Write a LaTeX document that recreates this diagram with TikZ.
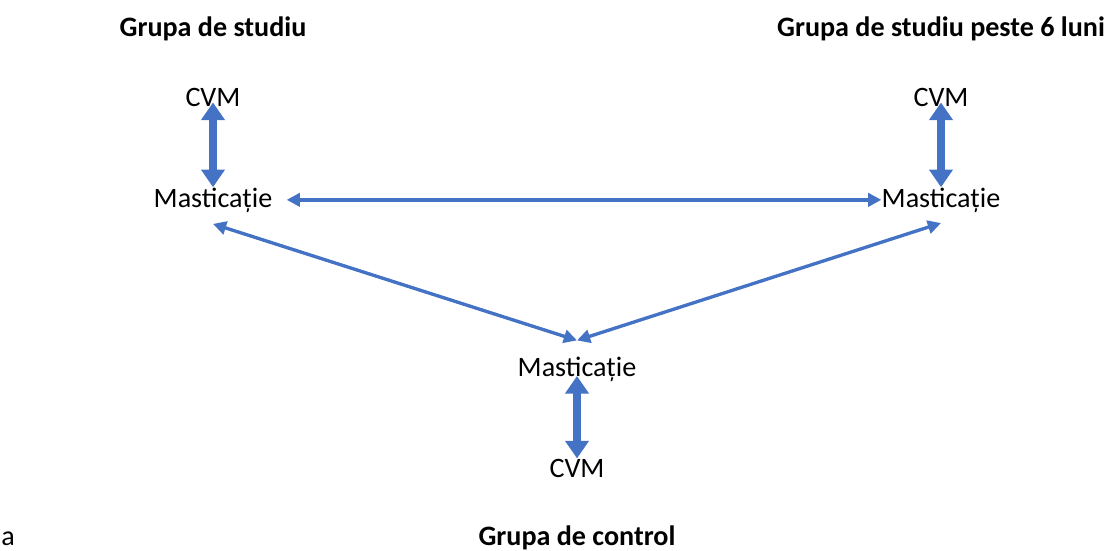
\documentclass[tikz,border=0pt]{standalone}
\usepackage{fontspec}
\setmainfont{Carlito}
\usetikzlibrary{arrows.meta}
\definecolor{linkblue}{HTML}{4472C4}

\begin{document}
\begin{tikzpicture}[x=0.02cm, y=-0.02cm,
    lbl/.style={font=\fontsize{16}{19}\selectfont, inner sep=0pt, anchor=base},
    grouptitle/.style={font=\fontsize{16}{19}\selectfont\bfseries, inner sep=0pt, anchor=base},
    bigarrow/.style={draw=linkblue, line width=4pt, {Triangle[width=13pt,length=10pt]}-{Triangle[width=13pt,length=10pt]}},
    linkarrow/.style={draw=linkblue, line width=1.9pt, {Triangle[width=7.5pt,length=7.5pt]}-{Triangle[width=7.5pt,length=7.5pt]}}]
    \useasboundingbox (0,0) rectangle (1110,551);

    % Titles
    \node[grouptitle] (titleA) at (213,36) {Grupa de studiu};
    \node[grouptitle] (titleB) at (941,36) {Grupa de studiu peste 6 luni};
    \node[grouptitle] (titleC) at (577,545) {Grupa de control};
    \node[lbl, anchor=base west] (tag) at (1,545) {a};

    % Study group
    \node[lbl] (cvmA) at (213,106) {CVM};
    \node[lbl] (mastA) at (213,207) {Masticație};

    % Study group after 6 months
    \node[lbl] (cvmB) at (941,106) {CVM};
    \node[lbl] (mastB) at (941,207) {Masticație};

    % Control group
    \node[lbl] (mastC) at (577,376) {Masticație};
    \node[lbl] (cvmC) at (577,477) {CVM};

    % Arrows
    \draw[bigarrow, shorten <=-2pt] (cvmA.base) -- (mastA.north);
    \draw[bigarrow, shorten <=-2pt] (cvmB.base) -- (mastB.north);
    \draw[bigarrow] (mastC.base) -- (cvmC.north);
    \draw[linkarrow, shorten <=8pt] (mastA.east) -- (mastB.west);
    \draw[linkarrow] ([yshift=-6.5pt]mastA.south) -- ([yshift=9pt]mastC.north);
    \draw[linkarrow] ([yshift=-6pt]mastB.south) -- ([yshift=9pt]mastC.north);
\end{tikzpicture}
\end{document}
